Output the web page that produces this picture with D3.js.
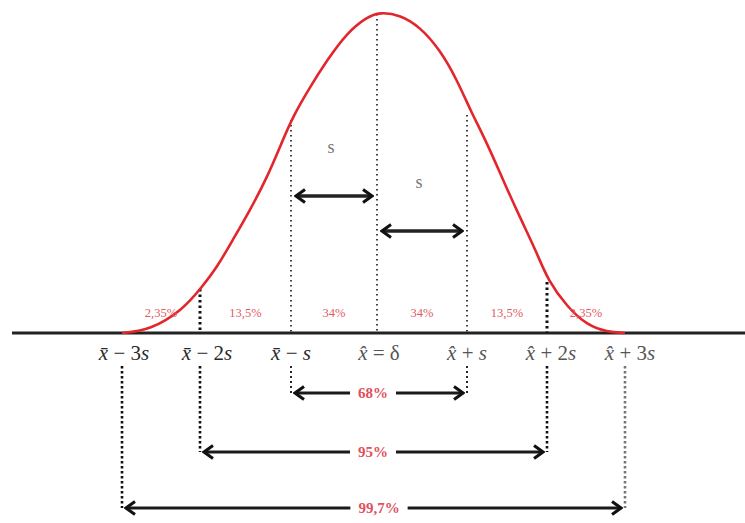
<!DOCTYPE html>
<html>
<head>
<meta charset="utf-8">
<script src="https://cdn.jsdelivr.net/npm/d3@7"></script>
<style>
  html, body { margin: 0; padding: 0; background: #fff; }
  svg { display: block; }
</style>
</head>
<body>
<svg id="chart" width="745" height="523"></svg>
<script>
// ---- data ----
const sigmaSteps = [-3, -2, -1, 0, 1, 2, 3];
const tickLabels = [
  ["x\u0304", " \u2212 3", "s"],
  ["x\u0304", " \u2212 2", "s"],
  ["x\u0304", " \u2212 ", "s"],
  ["x\u0302", " = \u03B4", ""],
  ["x\u0302", " + ", "s"],
  ["x\u0302", " + 2", "s"],
  ["x\u0302", " + 3", "s"]
];
const sigmaTopDensity = [0, 0.143, 0.67, 1.0, 0.685, 0.165, 0];
const bandShares = ["2,35%", "13,5%", "34%", "34%", "13,5%", "2,35%"];
const rangeLabels = ["68%", "95%", "99,7%"];
const rangeWidths = [1, 2, 3];
const spanLabels = ["s", "s"];
const curveZ = [-3, -2.64, -2.22, -1.98, -1.81, -1.64, -1.45, -1.26, -1.09, -0.98, -0.78, -0.58, -0.35, -0.12, 0.03,
                0.26, 0.48, 0.70, 0.89, 1.04, 1.25, 1.45, 1.66, 1.875, 2.01, 2.26, 2.51, 2.77, 3];
const curveDensity = [0, 0.009, 0.072, 0.143, 0.206, 0.29, 0.383, 0.486, 0.601, 0.673, 0.766, 0.85, 0.935, 0.984, 1.0,
                0.991, 0.953, 0.882, 0.788, 0.695, 0.592, 0.477, 0.361, 0.249, 0.165, 0.081, 0.025, 0.003, 0];

// ---- layout ----
const svg = d3.select("#chart");
const baseY = 333;
const x = d3.scaleLinear().domain(sigmaSteps).range([122, 200, 291, 377, 467, 547, 625]);
const y = d3.scaleLinear().domain([0, 1]).range([baseY, 12]);

// arrow marker
const defs = svg.append("defs");
defs.append("marker")
  .attr("id", "chev")
  .attr("markerUnits", "userSpaceOnUse")
  .attr("viewBox", "-12 -10 14 20")
  .attr("refX", 0).attr("refY", 0)
  .attr("markerWidth", 14).attr("markerHeight", 20)
  .attr("orient", "auto-start-reverse")
  .append("path")
  .attr("d", "M-9,-6.5 L0,0 L-9,6.5")
  .attr("fill", "none").attr("stroke", "#111")
  .attr("stroke-width", 3).attr("stroke-linejoin", "miter");

// baseline
svg.append("line")
  .attr("x1", 12).attr("x2", 745).attr("y1", baseY).attr("y2", baseY)
  .attr("stroke", "#222").attr("stroke-width", 3);

// dotted verticals above baseline
svg.append("g").selectAll("line")
  .data(sigmaSteps.map((z, i) => ({z, top: sigmaTopDensity[i]})).filter(d => Math.abs(d.z) <= 2))
  .join("line")
  .attr("x1", d => x(d.z)).attr("x2", d => x(d.z))
  .attr("y1", d => y(d.top) + 2).attr("y2", baseY)
  .attr("stroke", "#111")
  .attr("stroke-width", d => Math.abs(d.z) === 2 ? 3 : 1.6)
  .attr("stroke-dasharray", d => Math.abs(d.z) === 2 ? "2.5,3" : "1.5,3.5");

// dotted verticals below baseline
const lowerEnd = {1: 393, 2: 452, 3: 508};
svg.append("g").selectAll("line")
  .data(sigmaSteps.filter(z => z !== 0))
  .join("line")
  .attr("x1", d => x(d)).attr("x2", d => x(d))
  .attr("y1", 366).attr("y2", d => lowerEnd[Math.abs(d)])
  .attr("stroke", d => d === 3 ? "#777" : "#111")
  .attr("stroke-width", d => Math.abs(d) === 1 ? 1.8 : 2.6)
  .attr("stroke-dasharray", d => Math.abs(d) === 1 ? "2,3" : "2.5,2.5");

// normal curve
svg.append("path")
  .datum(curveZ.map((z, i) => [z, curveDensity[i]]))
  .attr("d", d3.line().x(d => x(d[0])).y(d => y(d[1])).curve(d3.curveBasis))
  .attr("fill", "none").attr("stroke", "#e3262b").attr("stroke-width", 2.6);

// band percentage labels
svg.append("g").selectAll("text")
  .data(bandShares)
  .join("text")
  .attr("x", (d, i) => x((sigmaSteps[i] + sigmaSteps[i + 1]) / 2))
  .attr("y", 317)
  .attr("text-anchor", "middle")
  .attr("font-family", "Liberation Serif, DejaVu Serif, serif")
  .attr("font-size", 12.5)
  .attr("fill", "#df5a64")
  .text(d => d);

// tick labels
const labelOffsets = [2, 7, 0, 2, 0, 4, 5];
const tl = svg.append("g").selectAll("text")
  .data(tickLabels)
  .join("text")
  .attr("x", (d, i) => x(sigmaSteps[i]) + labelOffsets[i])
  .attr("y", 360)
  .attr("text-anchor", "middle")
  .attr("font-family", "Liberation Serif, DejaVu Serif, serif")
  .attr("font-size", 21)
  .attr("fill", (d, i) => i < 3 ? "#2a2a2a" : "#555");
tl.append("tspan").attr("font-style", "italic").text(d => d[0]);
tl.append("tspan").text(d => d[1]);
tl.append("tspan").attr("font-style", "italic").text(d => d[2]);

// s span arrows
const spanRows = [196, 231];
svg.append("g").selectAll("line")
  .data(spanLabels)
  .join("line")
  .attr("x1", (d, i) => x(i - 1) + 5).attr("x2", (d, i) => x(i) - 5)
  .attr("y1", (d, i) => spanRows[i]).attr("y2", (d, i) => spanRows[i])
  .attr("stroke", "#222").attr("stroke-width", 3.5)
  .attr("marker-start", "url(#chev)").attr("marker-end", "url(#chev)");
svg.append("g").selectAll("text")
  .data(spanLabels)
  .join("text")
  .attr("x", (d, i) => x(i - 0.5) - 3)
  .attr("y", (d, i) => spanRows[i] - 43)
  .attr("text-anchor", "middle")
  .attr("font-family", "Liberation Serif, DejaVu Serif, serif")
  .attr("font-size", 18)
  .attr("fill", "#777")
  .text(d => d);

// coverage range arrows
const rangeRows = [393, 452, 508];
const rg = svg.append("g").selectAll("g")
  .data(rangeLabels)
  .join("g");
rg.append("line")
  .attr("x1", (d, i) => x(-rangeWidths[i]) + 4).attr("x2", (d, i) => x(rangeWidths[i]) - 4)
  .attr("y1", (d, i) => rangeRows[i]).attr("y2", (d, i) => rangeRows[i])
  .attr("stroke", "#1a1a1a").attr("stroke-width", 3)
  .attr("marker-start", "url(#chev)").attr("marker-end", "url(#chev)");
const rgBg = rg.append("rect").attr("fill", "#fff");
const rgText = rg.append("text")
  .attr("x", (d, i) => x(0) + (i === 2 ? 2 : -4))
  .attr("y", (d, i) => rangeRows[i] + 5)
  .attr("text-anchor", "middle")
  .attr("font-family", "Liberation Serif, DejaVu Serif, serif")
  .attr("font-size", 15)
  .attr("font-weight", "bold")
  .attr("fill", "#e0505c")
  .text(d => d);
rgText.each(function(d, i) {
  const b = this.getBBox();
  d3.select(rgBg.nodes()[i])
    .attr("x", b.x - 8).attr("y", b.y)
    .attr("width", b.width + 16).attr("height", b.height);
});
</script>
</body>
</html>
